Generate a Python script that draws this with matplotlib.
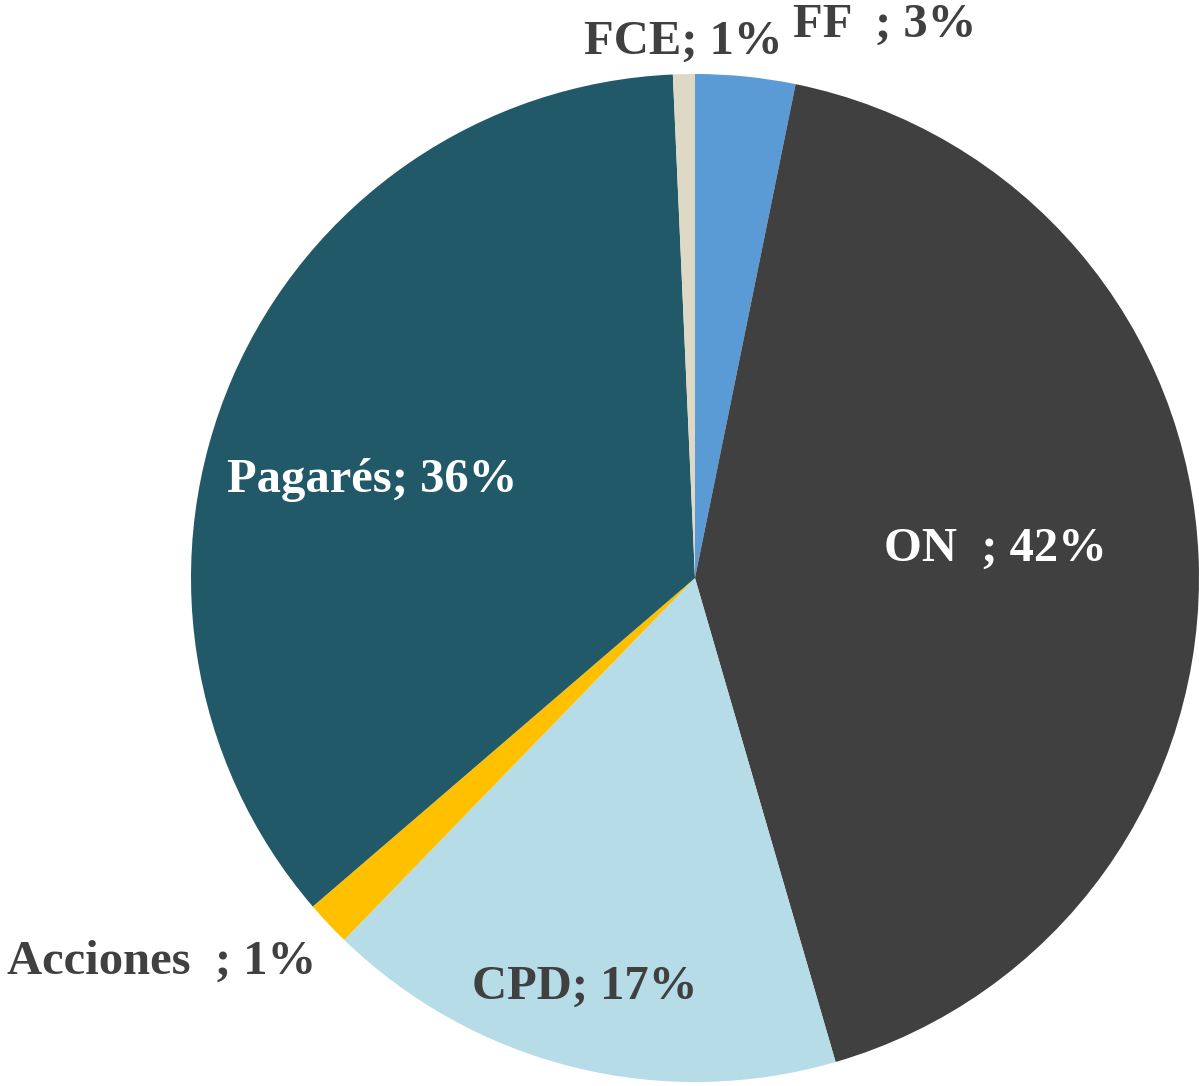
import matplotlib
matplotlib.use("Agg")
import matplotlib.pyplot as plt
import numpy as np

# shares, clockwise from 12 o'clock
categories = ["FF  ", "ON  ", "CPD", "Acciones  ", "Pagarés", "FCE"]
shares = [3.2, 42.3, 16.75, 1.45, 35.6, 0.7]
pct_labels = ["3%", "42%", "17%", "1%", "36%", "1%"]
colors = ["#5B9BD5", "#404040", "#B5DCE7", "#FFC000", "#215968", "#DDD9C4"]
text_colors = ["#404040", "white", "#404040", "#404040", "white", "#404040"]

# label offsets from pie centre (fraction of radius, x and y)
label_pos = [(0.377, 1.097), (0.595, 0.058), (-0.218, -0.812),
             (-1.058, -0.762), (-0.641, 0.194), (-0.024, 1.063)]

W, H = 1199, 1086
cx, cy, R = 695, 578, 504

fig = plt.figure(figsize=(W / 100, H / 100), dpi=100)
ax = fig.add_axes([0, 0, 1, 1])
ax.pie(shares, colors=colors, startangle=90, counterclock=False,
       radius=1, wedgeprops=dict(linewidth=0))
ax.set_xlim(-cx / R, (W - cx) / R)
ax.set_ylim(-(H - cy) / R, cy / R)
ax.set_aspect("equal")
ax.axis("off")

for cat, pct, tc, (lx, ly) in zip(categories, pct_labels, text_colors, label_pos):
    ax.text(lx, ly, f"{cat}; {pct}", ha="center", va="center",
            fontsize=35, fontweight="bold", family="Liberation Serif", color=tc)

fig.savefig("out.png", dpi=100)
